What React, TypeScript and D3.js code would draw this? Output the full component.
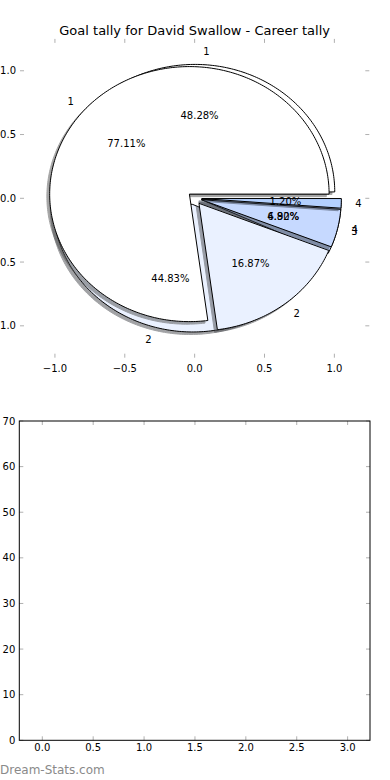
import React from 'react';
import * as d3 from 'd3';

// goal tallies
const chartTitle = 'Goal tally for David Swallow - Career tally';
const careerLabels = ['1', '2', '3', '4'];
const careerGoals = [64, 14, 4, 1];
const otherLabels = ['1', '2', '4'];
const otherGoals = [14, 13, 2];
const wedgeColors = ['#ffffff', '#eaf1ff', '#c6d9ff', '#b3d0ff'];
const explodeBy = 0.05;

const pieTicks = [-1.0, -0.5, 0.0, 0.5, 1.0];
const barXTicks = [0.0, 0.5, 1.0, 1.5, 2.0, 2.5, 3.0];
const barYTicks = [0, 10, 20, 30, 40, 50, 60, 70];

const W = 390;
const H = 780;
const FONT = 'DejaVu Sans, sans-serif';
const TICK = '#b0b0b0';

const px = d3.scaleLinear().domain([-1.25, 1.25]).range([20, 369.3]);
const py = d3.scaleLinear().domain([-1.25, 1.25]).range([357.7, 38.9]);

const bx = d3.scaleLinear().domain([-0.226, 3.22]).range([19.3, 370]);
const by = d3.scaleLinear().domain([0, 70]).range([740.3, 421]);

const fmt1 = d3.format('.1f');

const line = d3
  .line<[number, number]>()
  .x((d) => px(d[0]))
  .y((d) => py(d[1]));

function wedgePath(cx: number, cy: number, a0: number, a1: number) {
  const pts: [number, number][] = [[cx, cy]];
  const n = Math.max(4, Math.ceil(((a1 - a0) * 180) / Math.PI));
  for (let i = 0; i <= n; i++) {
    const a = a0 + ((a1 - a0) * i) / n;
    pts.push([cx + Math.cos(a), cy + Math.sin(a)]);
  }
  return line(pts) + 'Z';
}

function shadowColor(c: string) {
  const rgb = d3.rgb(c);
  return d3.rgb(rgb.r * 0.3, rgb.g * 0.3, rgb.b * 0.3).formatHex();
}

// matplotlib style: counter-clockwise from 3 o'clock, so d3's angles are reused as-is
const pieGen = d3.pie<number>().sort(null).startAngle(0).endAngle(2 * Math.PI);

function buildPie(values: number[], labels: string[]) {
  const total = d3.sum(values);
  return pieGen(values).map((arc, i) => {
    const mid = (arc.startAngle + arc.endAngle) / 2;
    const cx = explodeBy * Math.cos(mid);
    const cy = explodeBy * Math.sin(mid);
    return {
      key: i,
      color: wedgeColors[i],
      path: wedgePath(cx, cy, arc.startAngle, arc.endAngle),
      shadow: wedgePath(cx - 0.02, cy - 0.02, arc.startAngle, arc.endAngle),
      lx: cx + 1.1 * Math.cos(mid),
      ly: cy + 1.1 * Math.sin(mid),
      tx: cx + 0.6 * Math.cos(mid),
      ty: cy + 0.6 * Math.sin(mid),
      label: labels[i],
      pct: ((100 * values[i]) / total).toFixed(2) + '%',
    };
  });
}

const App = () => {
  const otherPie = buildPie(otherGoals, otherLabels);
  const careerPie = buildPie(careerGoals, careerLabels);
  const allWedges = [...otherPie, ...careerPie];

  return (
    <svg
      width={W}
      height={H}
      style={{ position: 'absolute', left: 0, top: 0, background: '#fff' }}
      fontFamily={FONT}
    >
      <rect width={W} height={H} fill="#fff" />

      {/* top axes: pies */}
      {[otherPie, careerPie].map((pie, p) => (
        <g key={p}>
          {pie.map((w) => (
            <g key={w.key}>
              <path
                d={w.shadow}
                fill={shadowColor(w.color)}
                stroke={shadowColor(w.color)}
                strokeWidth={1}
                opacity={0.5}
              />
              <path d={w.path} fill={w.color} stroke="#000" strokeWidth={1} strokeLinejoin="miter" />
            </g>
          ))}
        </g>
      ))}
      {allWedges.map((w, i) => (
        <g key={'t' + i} fontSize={10} fill="#000">
          <text
            x={px(w.lx)}
            y={py(w.ly)}
            textAnchor={w.lx > 0 ? 'start' : 'end'}
            dominantBaseline="central"
          >
            {w.label}
          </text>
          <text x={px(w.tx)} y={py(w.ty)} textAnchor="middle" dominantBaseline="central">
            {w.pct}
          </text>
        </g>
      ))}

      {/* top axes ticks, no frame */}
      {pieTicks.map((t) => (
        <g key={'px' + t}>
          <line x1={px(t)} x2={px(t)} y1={py(-1.25)} y2={py(-1.25) - 4} stroke={TICK} />
          <line x1={px(t)} x2={px(t)} y1={py(1.25)} y2={py(1.25) + 4} stroke={TICK} />
          <text x={px(t)} y={py(-1.25) + 7} fontSize={10} textAnchor="middle" dominantBaseline="hanging">
            {fmt1(t)}
          </text>
        </g>
      ))}
      {pieTicks.map((t) => (
        <g key={'py' + t}>
          <line x1={px(-1.25)} x2={px(-1.25) + 4} y1={py(t)} y2={py(t)} stroke={TICK} />
          <line x1={px(1.25)} x2={px(1.25) - 4} y1={py(t)} y2={py(t)} stroke={TICK} />
          <text x={px(-1.25) - 4} y={py(t)} fontSize={10} textAnchor="end" dominantBaseline="central">
            {fmt1(t)}
          </text>
        </g>
      ))}
      <text x={px(0)} y={30} fontSize={13} textAnchor="middle" dominantBaseline="central">
        {chartTitle}
      </text>

      {/* bottom axes: empty */}
      {barXTicks.map((t) => (
        <g key={'bx' + t}>
          <line x1={bx(t)} x2={bx(t)} y1={by(0)} y2={by(0) - 4} stroke={TICK} />
          <line x1={bx(t)} x2={bx(t)} y1={by(70)} y2={by(70) + 4} stroke={TICK} />
          <text x={bx(t)} y={by(0) + 3} fontSize={10} textAnchor="middle" dominantBaseline="hanging">
            {fmt1(t)}
          </text>
        </g>
      ))}
      {barYTicks.map((t) => (
        <g key={'by' + t}>
          <line x1={bx(-0.226)} x2={bx(-0.226) + 4} y1={by(t)} y2={by(t)} stroke={TICK} />
          <line x1={bx(3.22)} x2={bx(3.22) - 4} y1={by(t)} y2={by(t)} stroke={TICK} />
          <text x={bx(-0.226) - 4} y={by(t)} fontSize={10} textAnchor="end" dominantBaseline="central">
            {t}
          </text>
        </g>
      ))}
      <rect
        x={bx(-0.226)}
        y={by(70)}
        width={bx(3.22) - bx(-0.226)}
        height={by(0) - by(70)}
        fill="none"
        stroke="#000"
        strokeWidth={1}
      />

      <text x={0} y={770} fontSize={12} fill="#8a8a8a" dominantBaseline="central">
        Dream-Stats.com
      </text>
    </svg>
  );
};

export default App;
